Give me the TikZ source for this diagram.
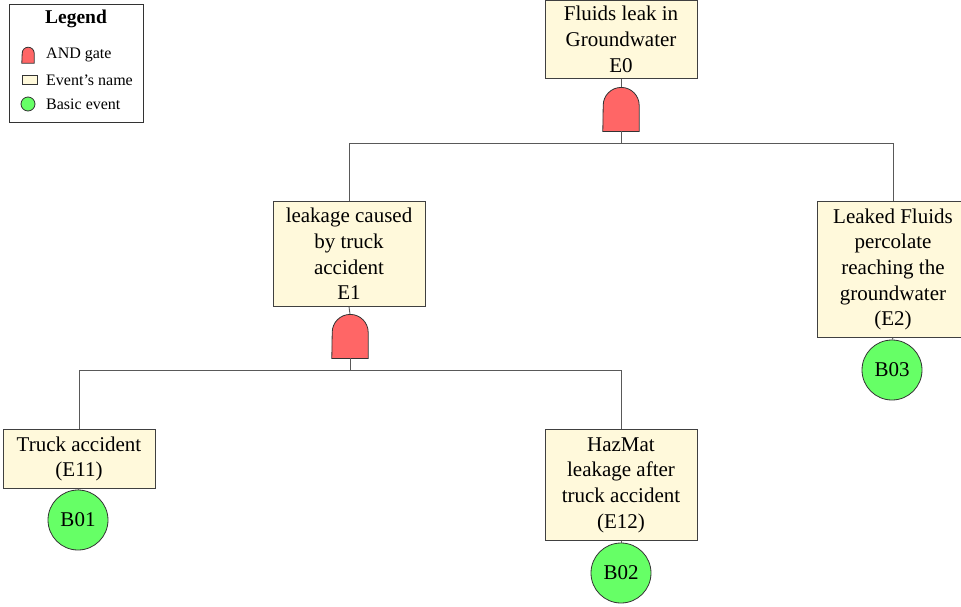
\documentclass[tikz,border=0pt]{standalone}
\usepackage{fontspec}
\setmainfont{Liberation Serif}
\newcommand\evtextfont{\fontsize{21}{25.7}\selectfont}
\begin{document}
\begin{tikzpicture}[x=1pt,y=-1pt,
  evbox/.style={draw=black!75, fill=evfill, line width=0.8pt, inner sep=0pt,
    minimum width=152pt, anchor=north, align=center, font=\evtextfont},
  gatebox/.style={minimum width=36pt, minimum height=44pt, inner sep=0pt, anchor=north},
  gateshape/.style={draw=black!80, fill=gatefill, line width=0.8pt},
  basic/.style={circle, draw=black!80, fill=basicfill, line width=0.8pt,
    minimum size=60pt, inner sep=0pt, font=\fontsize{21}{24}\selectfont},
  wire/.style={draw=black!65, line width=0.9pt},
  legitem/.style={anchor=west, inner sep=0pt, font=\fontsize{16}{18}\selectfont}]
\definecolor{evfill}{RGB}{255,249,219}
\definecolor{gatefill}{RGB}{255,102,102}
\definecolor{basicfill}{RGB}{102,255,102}
\useasboundingbox (0,0) rectangle (961,606);

% legend
\node[draw=black!80, line width=0.8pt, minimum width=134pt, minimum height=118pt,
  anchor=north west, inner sep=0pt] (legend) at (9,4) {};
\node[font=\bfseries\fontsize{19.5}{22}\selectfont, inner sep=0pt] (legtitle) at (76,19) {Legend};
\node[minimum width=12pt, minimum height=16pt, inner sep=0pt] (leggate) at (28,55) {};
\draw[gateshape] (leggate.south west) -- (leggate.south east) -- ++(0,-10) arc(0:-180:6) -- cycle;
\node[legitem] (legand) at (46,55) {AND gate};
\node[draw=black!80, fill=evfill, line width=0.8pt, minimum width=15pt, minimum height=9pt,
  inner sep=0pt] (legev) at (29.5,80) {};
\node[legitem] (legevtext) at (46,80) {Event’s name};
\node[circle, draw=black!80, fill=basicfill, line width=0.8pt, minimum size=14pt,
  inner sep=0pt] (legbasic) at (28,104) {};
\node[legitem] (legbasictext) at (46,104) {Basic event};

% events
\node[evbox, minimum height=78pt] (e0) at (621,0) {Fluids leak in\\Groundwater\\E0};
\node[evbox, minimum height=105pt] (e1) at (349,201) {leakage caused\\by truck\\accident\\E1};
\node[evbox, minimum height=136pt] (e2) at (893,201) {Leaked Fluids\\percolate\\reaching the\\groundwater\\(E2)};
\node[evbox, minimum height=59pt] (e11) at (79,429) {Truck accident\\(E11)};
\node[evbox, minimum height=111pt] (e12) at (621,429) {HazMat\\leakage after\\truck accident\\(E12)};

% gates
\node[gatebox] (g0) at (621,87) {};
\draw[gateshape] (g0.south west) -- (g0.south east) -- ++(0,-26) arc(0:-180:18) -- cycle;
\node[gatebox] (g1) at (350,314) {};
\draw[gateshape] (g1.south west) -- (g1.south east) -- ++(0,-26) arc(0:-180:18) -- cycle;

% basic events
\node[basic] (b01) at (78,520) {B01};
\node[basic] (b02) at (621,573) {B02};
\node[basic] (b03) at (892,370) {B03};

% connectors
\coordinate (bar0) at (621,143);
\coordinate (bar1) at (350,370);
\draw[wire] (e0.south) -- (g0.north);
\draw[wire] (g0.south) -- (bar0);
\draw[wire] (bar0) -| (e1.north);
\draw[wire] (bar0) -| (e2.north);
\draw[wire] (e1.south) -- (g1.north);
\draw[wire] (g1.south) -- (bar1);
\draw[wire] (bar1) -| (e11.north);
\draw[wire] (bar1) -| (e12.north);
\draw[wire] (e2.south) -- (b03.north);
\draw[wire] (e11.south) -- (b01.north);
\draw[wire] (e12.south) -- (b02.north);
\end{tikzpicture}
\end{document}
